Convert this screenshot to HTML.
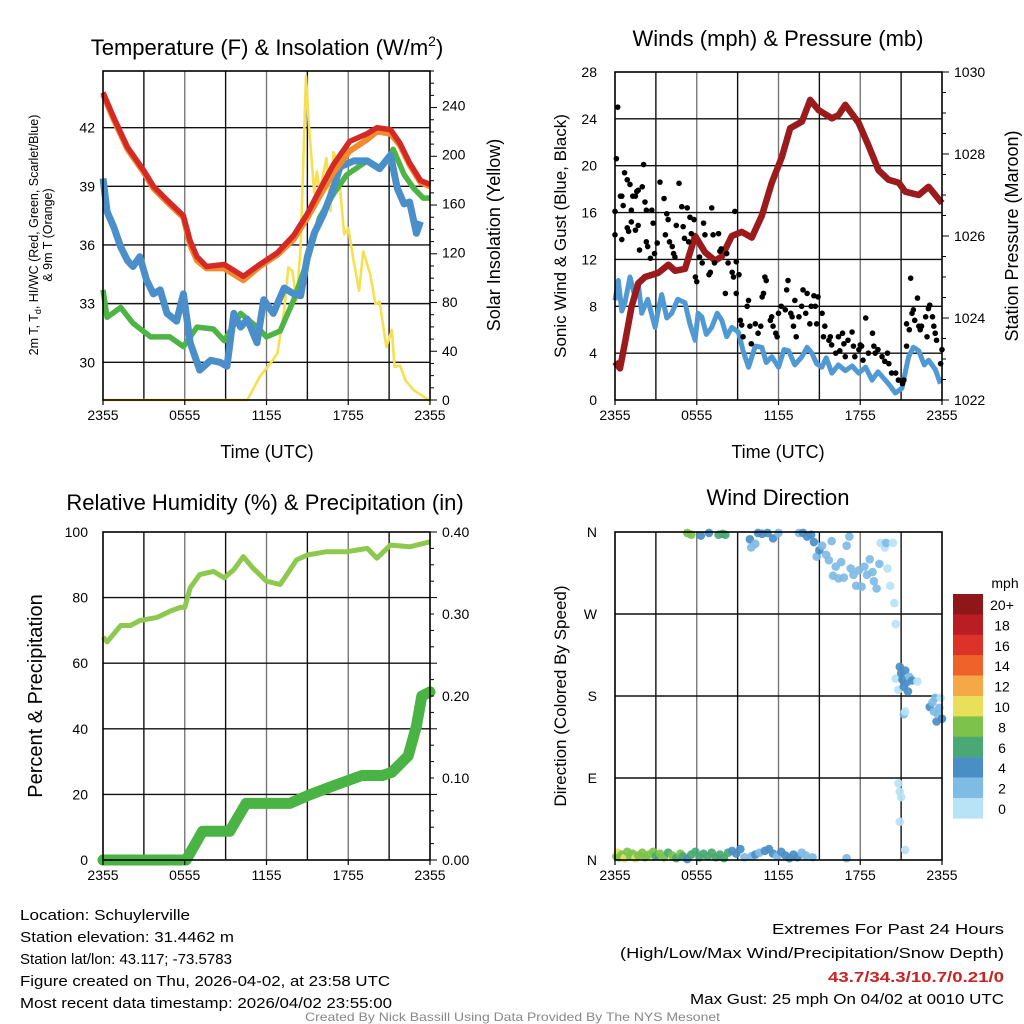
<!DOCTYPE html>
<html><head><meta charset="utf-8"><style>
html,body{margin:0;padding:0;background:#fff;}
svg{display:block;font-family:"Liberation Sans",sans-serif;}
</style></head><body>
<svg id="chart" width="1024" height="1024" viewBox="0 0 1024 1024" xmlns="http://www.w3.org/2000/svg">
<rect width="1024" height="1024" fill="#fff"/>
</svg>
<script>
// ---------- DATA ----------
const xTickLabels = ["2355","0555","1155","1755","2355"];
// Panel 1: temperature
const redHours = [0,0.8,1.8,3.0,3.7,4.7,5.9,6.4,6.9,7.6,8.9,10.3,11.5,12.8,14.0,15.0,15.9,16.9,18.1,19.4,20.1,21.1,21.8,22.5,23.3,24];
const redTemp  = [43.8,42.5,41.0,39.8,39.0,38.3,37.5,36.2,35.4,34.9,35.0,34.4,35.0,35.6,36.5,37.6,38.8,40.1,41.3,41.7,42.0,41.9,41.2,40.2,39.3,39.1];
const orangeTemp=[43.7,42.4,40.9,39.7,38.9,38.2,37.4,36.0,35.2,34.8,34.8,34.2,34.9,35.5,36.3,37.4,38.5,39.7,40.8,41.4,41.8,41.7,41.1,40.1,39.2,39.0];
const greenHours = [0,0.3,1.3,2.2,3.5,4.9,5.9,6.9,8.1,8.9,10.1,11.3,12.0,13.0,14.0,15.0,15.9,16.9,17.9,19.4,20.3,21.1,21.3,22.1,22.8,23.5,24];
const greenTemp  = [33.7,32.3,32.8,32.0,31.3,31.3,30.8,31.8,31.7,31.1,32.5,31.8,31.3,31.6,33.2,35.2,37.4,38.6,39.6,40.3,39.9,40.6,40.9,39.6,38.9,38.4,38.4];
const dewHours = [0,0.3,0.8,1.3,1.8,2.2,2.7,3.2,3.7,4.2,4.7,5.4,5.9,6.4,7.1,7.9,8.6,9.1,9.6,10.1,10.6,11.3,11.8,12.5,13.3,14.0,14.5,15.0,15.5,16.2,16.9,17.4,18.4,19.4,20.3,21.1,21.6,22.1,22.5,23.0,23.3];
const dewTemp  = [39.4,37.7,36.9,35.9,35.2,34.9,35.4,34.2,33.5,33.7,32.5,32.1,33.5,31.0,29.6,30.1,30.0,29.8,32.5,31.8,32.2,31.0,33.2,32.5,33.8,33.5,33.4,35.4,36.6,37.6,38.9,40.0,40.3,40.3,39.9,40.6,38.9,38.1,38.2,36.6,37.2];
const solarHours = [0,10.6,11.5,12.3,12.8,13.3,13.6,13.9,14.2,14.5,14.7,14.9,15.1,15.5,15.7,15.9,16.4,16.7,16.9,17.2,17.4,17.7,18.0,18.4,18.8,19.1,19.6,20.0,20.3,20.8,21.2,21.4,21.8,22.2,22.8,23.5,23.9,24];
const solarVal   = [0,0,19,30,38,73,108,105,81,124,194,264,226,169,186,170,197,154,202,194,172,135,140,113,89,121,103,78,80,43,57,27,28,16,8,3,0,0];
// Panel 2: winds & pressure
const presHours = [0,0.37,0.73,1.22,1.71,2.2,3.18,3.92,4.41,5.14,5.88,6.61,7.35,7.84,8.57,9.31,10.04,10.78,11.51,12.25,12.86,13.72,14.33,14.94,15.92,16.41,16.9,17.88,18.61,19.35,20.08,20.82,21.31,22.29,23.02,24];
const presVal   = [1022.93,1022.77,1023.39,1024.28,1024.85,1025.0,1025.1,1025.3,1025.15,1025.2,1026.0,1025.6,1025.4,1025.5,1026.0,1026.1,1025.96,1026.5,1027.3,1027.93,1028.63,1028.79,1029.32,1029.07,1028.87,1028.95,1029.2,1028.76,1028.2,1027.6,1027.37,1027.3,1027.08,1027.0,1027.2,1026.8];
const windHours = [0,0.24,0.5,0.73,1.1,1.47,1.7,1.96,2.4,2.94,3.2,3.43,3.8,4.16,4.6,5.14,5.5,5.88,6.1,6.37,6.7,7.1,7.5,7.84,8.2,8.57,9.06,9.4,9.8,10.3,10.78,11.1,11.51,12.0,12.4,12.74,13.2,13.72,14.1,14.45,14.8,15.18,15.5,15.92,16.4,16.9,17.4,17.88,18.4,18.86,19.3,19.84,20.2,20.57,21.06,21.55,21.9,22.29,22.7,23.02,23.51,23.88];
const windVal   = [8.5,10.2,7.6,8.3,10.5,8.8,10.0,7.4,8.6,6.2,7.8,9.0,7.0,7.4,8.6,8.3,6.5,5.1,7.4,7.1,5.6,6.2,7.4,6.8,5.4,6.2,5.8,4.2,2.8,4.6,4.5,3.2,3.7,2.8,4.3,4.2,3.0,3.7,4.5,4.0,3.1,2.8,3.6,2.3,3.0,2.5,2.9,2.3,2.8,1.7,2.4,1.7,1.2,0.6,1.0,3.7,4.5,4.2,3.0,3.4,2.6,1.4];
const gustHours = [0.2,0.1,0.0,0.0,0.4,0.5,0.6,0.5,0.7,0.9,1.1,1.2,1.3,1.5,1.6,1.7,2.0,2.1,2.2,2.3,0.9,1.0,1.2,1.5,1.7,1.8,2.3,2.4,2.6,2.7,2.8,2.9,3.1,3.3,3.6,3.7,3.8,3.9,4.0,4.2,4.3,4.4,4.7,4.5,4.9,5.0,5.1,5.3,5.4,5.5,5.6,5.8,5.9,6.0,6.2,6.4,6.5,6.6,6.9,7.0,7.1,7.2,7.3,7.6,7.7,7.8,8.1,8.2,8.3,8.6,8.7,8.8,8.9,8.9,9.1,9.2,9.3,9.4,9.7,9.8,9.9,10.0,10.3,10.5,10.7,10.8,10.9,11.0,11.1,11.4,11.5,11.6,11.8,11.9,12.0,12.2,12.5,12.6,12.7,12.9,13.0,13.1,13.2,13.3,13.5,13.7,13.8,14.0,14.1,14.3,14.4,14.6,14.7,14.8,14.9,15.2,15.3,15.4,15.7,15.8,15.9,16.2,16.4,16.5,16.7,16.8,16.9,17.1,17.4,17.5,17.6,17.9,18.0,18.1,18.2,18.4,18.6,18.9,19.0,19.1,19.3,19.6,19.8,20.0,20.1,20.3,20.6,20.8,21.1,21.2,21.4,21.4,21.6,21.7,21.8,21.9,22.0,22.2,22.3,22.4,22.5,22.8,22.9,23.0,23.1,23.3,23.4,23.5,23.6,23.9,24.0];
const gustVal   = [25.0,20.6,16.1,14.1,17.4,17.4,16.6,13.7,19.4,18.8,18.4,16.2,17.4,17.4,17.8,17.9,18.2,20.1,16.9,16.2,14.7,14.4,15.2,14.5,14.9,12.8,13.5,13.1,12.1,16.2,15.1,12.5,13.4,18.6,17.2,14.1,15.9,15.4,13.5,13.1,12.5,12.2,18.5,14.9,16.5,14.8,13.8,16.4,13.5,15.6,14.2,15.4,10.5,10.1,12.2,11.7,15.1,14.1,10.7,10.9,16.4,14.1,11.7,14.2,12.7,12.9,9.1,12.5,11.7,10.9,10.5,16.1,11.8,9.1,10.7,6.8,6.4,5.4,8.0,8.5,6.3,4.8,6.5,5.7,6.3,8.8,9.1,10.5,10.2,6.8,7.1,6.3,5.7,5.4,7.4,8.0,7.7,9.4,10.2,7.4,7.1,6.3,8.5,5.4,7.1,8.0,9.4,7.4,9.1,6.5,8.0,8.9,8.0,6.5,8.8,7.4,5.4,6.3,5.1,5.4,4.7,4.0,5.4,4.2,5.7,4.8,3.7,5.1,5.8,4.6,3.7,4.3,4.7,4.6,3.4,7.0,4.0,5.7,4.6,4.0,4.3,3.7,3.3,4.0,3.1,2.3,2.3,1.7,1.4,1.7,4.6,6.5,6.0,10.4,7.4,7.7,6.8,8.7,6.3,6.0,6.3,7.1,5.4,7.8,8.1,7.1,6.3,5.7,5.1,3.1,4.3];
// Panel 3: RH & precip
const rhHours = [0,0.3,1.3,2.0,2.7,4.0,5.0,5.7,6.0,6.4,7.1,8.1,8.9,9.6,10.3,11.0,12.0,13.0,13.5,14.2,15.0,16.4,17.9,19.4,20.1,21.1,22.5,24];
const rhVal   = [68,66.5,71.5,71.5,73,74,76,77,77,83,87,88,86,88.5,92.5,89,85,84,87,91.5,93,94,94,95,92,96,95.5,97];
const prHours = [0,6.1,7.3,9.3,10.5,13.7,15.1,17.0,19.0,20.5,21.2,22.4,23.0,23.4,24];
const prVal   = [0,0,0.035,0.035,0.069,0.069,0.079,0.091,0.103,0.103,0.107,0.127,0.163,0.200,0.205];
// Panel 4: wind direction
const dirHours = [0.1,0.2,0.3,0.5,0.7,0.9,1.1,1.3,1.5,1.7,2.0,2.2,2.5,2.8,3.0,3.3,3.6,3.9,4.2,4.5,4.8,5.0,5.3,5.6,5.9,6.2,6.5,6.8,7.1,7.4,7.7,8.0,8.3,8.6,8.9,9.2,9.5,10.0,10.3,10.6,11.0,11.3,11.6,11.9,12.2,12.5,12.8,13.1,13.4,13.7,14.0,14.5,17.0,21.3,
 5.3,5.6,6.3,6.9,7.6,7.9,8.1,9.9,10.0,10.3,10.5,10.8,11.2,11.6,12.0,13.5,13.8,14.1,14.4,14.6,14.8,15.0,15.2,15.5,15.7,15.9,16.0,16.2,16.4,16.6,16.8,17.0,17.2,17.3,17.5,17.7,17.9,18.1,18.3,18.5,18.7,18.9,19.0,19.2,19.4,19.5,19.8,19.9,20.0,20.2,20.4,20.5,20.6,
 20.6,20.8,20.9,21.0,21.1,21.2,21.3,21.4,21.5,21.6,21.8,21.2,21.3,22.2,23.1,23.3,23.4,23.5,23.6,23.7,23.8,23.9,24.0,20.8,20.9,21.0,20.9];
const dirDeg = [4,8,3,6,2,9,4,7,2,5,8,3,6,9,4,7,3,8,5,2,7,4,1,6,9,3,7,4,8,3,6,2,8,10,7,12,3,4,6,8,10,12,7,4,9,5,2,6,3,8,5,3,2,11,
 359,357,356,359,357,358,357,352,343,347,359,358,359,353,359,359,359,355,357,349,333,340,345,335,329,350,312,322,309,327,310,345,355,320,313,301,318,300,322,313,330,316,306,298,325,348,343,348,320,301,348,282,259,
 199,187,212,205,198,190,208,195,185,201,197,160,163,196,168,173,163,178,152,160,167,178,155,84,75,69,42];
const dirSpeed = [9,10,9,8,10,8,9,8,10,8,8,9,8,8,7,8,8,7,8,7,8,6,5,7,6,6,6,6,6,6,6,7,6,4,4,4,3,3,4,3,4,4,4,3,4,4,4,4,4,3,3,3,3,1,
 8,8,4,4,6,6,6,4,3,3,4,4,4,4,3,3,4,4,4,4,3,4,3,3,3,3,3,3,3,3,3,3,3,3,3,3,3,3,3,3,3,3,3,3,3,1,1,3,1,1,1,1,1,
 1,1,4,4,4,4,4,4,4,3,4,3,1,1,4,3,3,3,4,3,3,1,4,1,1,1,1];
const cbLabels = ["20+","18","16","14","12","10","8","6","4","2","0"];
const cbColors = ["#8f1619","#bb1d25","#db3328","#ef6229","#f5a845","#e8e05b","#7dc24b","#49a873","#4a8ec6","#7ebbe5","#b8e3f6"];

// ---------- HELPERS ----------
const NS="http://www.w3.org/2000/svg";
const svg=document.getElementById('chart');
function el(tag,attrs,parent){const e=document.createElementNS(NS,tag);for(const k in attrs)e.setAttribute(k,attrs[k]);(parent||svg).appendChild(e);return e;}
function txt(s,x,y,size,attrs,parent){const t=el('text',Object.assign({x:x,y:y,'font-size':size,fill:'#000'},attrs||{}),parent);t.textContent=s;return t;}
function makePanel(x0,x1,y0,y1,lmin,lmax,rmin,rmax){
 return {x0,x1,y0,y1,sx:h=>x0+h/24*(x1-x0),ly:v=>y1-(v-lmin)/(lmax-lmin)*(y1-y0),ry:v=>y1-(v-rmin)/(rmax-rmin)*(y1-y0)};
}
function pathD(xs,ys,fx,fy){return xs.map((h,i)=>(i?'L':'M')+fx(h).toFixed(1)+','+fy(ys[i]).toFixed(1)).join('');}
function grid(p,g,hLines){
 for(let k=1;k<8;k++){const x=p.x0+k*(p.x1-p.x0)/8;const l=el('line',{x1:x,x2:x,y1:p.y0,y2:p.y1,stroke:k%2?'#111':'#777','stroke-width':1.4},g);
 
 }
 hLines.forEach(y=>{const l=el('line',{x1:p.x0,x2:p.x1,y1:y,y2:y,stroke:'#111','stroke-width':1.4},g);
 
 });
}
function frame(p,g){const r=el('rect',{x:p.x0,y:p.y0,width:p.x1-p.x0,height:p.y1-p.y0,fill:'none',stroke:'#000','stroke-width':1.6},g);
 
 }
function xTicks(p,g,ty){xTickLabels.forEach((s,i)=>{const x=p.sx(i*6);const t=txt(s,x,ty,14,{'text-anchor':'middle'},g);
 
 
 el('line',{x1:x,x2:x,y1:p.y1,y2:p.y1+5,stroke:'#000','stroke-width':1.2},g);});}
function rightMinor(p,g,n){for(let i=0;i<=n;i++){const y=p.y1-i*(p.y1-p.y0)/n;el('line',{x1:p.x1,x2:p.x1+(i%4==0?7:4),y1:y,y2:y,stroke:'#000','stroke-width':1},g);}}
function label(s,x,y,size,rot,g,name,extra){const t=txt(s,x,y,size,Object.assign({'text-anchor':'middle',transform:rot?`rotate(-90 ${x} ${y})`:''},extra||{}),g);
 
 return t;}

// ---------- PANEL 1 ----------
const g1=el('g',{});
const p1=makePanel(103,430,71,400,28.07,44.9,0,268);
grid(p1,g1,[30,33,36,39,42].map(p1.ly));
const sol=el('path',{d:pathD(solarHours,solarVal,p1.sx,p1.ry),fill:'none',stroke:'#f7e04f','stroke-width':2.6,'stroke-linejoin':'round'},g1);

const gl=el('path',{d:pathD(greenHours,greenTemp,p1.sx,p1.ly),fill:'none',stroke:'#4db445','stroke-width':5.5,'stroke-linejoin':'round'},g1);

const dl=el('path',{d:pathD(dewHours,dewTemp,p1.sx,p1.ly),fill:'none',stroke:'#4a8fc9','stroke-width':7,'stroke-linejoin':'round'},g1);

const ol=el('path',{d:pathD(redHours,orangeTemp,p1.sx,p1.ly),fill:'none',stroke:'#f28a2e','stroke-width':6,'stroke-linejoin':'round'},g1);

const rl=el('path',{d:pathD(redHours,redTemp,p1.sx,p1.ly),fill:'none',stroke:'#d42a25','stroke-width':5.5,'stroke-linejoin':'round'},g1);

frame(p1,g1);xTicks(p1,g1,420);rightMinor(p1,g1,Math.round(268/10));
[30,33,36,39,42].forEach(v=>{const t=txt(String(v),95,p1.ly(v)+5,14,{'text-anchor':'end'},g1);});
[0,40,80,120,160,200,240].forEach(v=>{const t=txt(String(v),442,p1.ry(v)+5,14,{},g1);});
const t1=label('',267,55,22,false,g1,'temperature-title');t1.innerHTML='Temperature (F) &amp; Insolation (W/m<tspan font-size="14" dy="-9">2</tspan><tspan dy="9">)</tspan>';
label('Time (UTC)',267,458,18,false,g1,'x-axis-title');
const yl1=label('',38,235,12.5,true,g1,'left-y-axis-title');yl1.innerHTML='2m T, T<tspan font-size="9" dy="3">d</tspan><tspan dy="-3">, HI/WC (Red, Green, Scarlet/Blue)</tspan>';
label('& 9m T (Orange)',52,235,12.5,true,g1,'left-y-axis-title-line2');
label('Solar Insolation (Yellow)',500,235,18,true,g1,'right-y-axis-title');

// ---------- PANEL 2 ----------
const g2=el('g',{});
const p2=makePanel(615,942,72,400,0,28,1022,1030);
grid(p2,g2,[4,8,12,16,20,24].map(p2.ly));
const wl=el('path',{d:pathD(windHours,windVal,p2.sx,p2.ly),fill:'none',stroke:'#5199d3','stroke-width':5,'stroke-linejoin':'round'},g2);

const pl=el('path',{d:pathD(presHours,presVal,p2.sx,p2.ry),fill:'none',stroke:'#9b1a1c','stroke-width':6.5,'stroke-linejoin':'round'},g2);

gustHours.forEach((h,i)=>{const c=el('circle',{cx:p2.sx(h),cy:p2.ly(gustVal[i]),r:2.8,fill:'#000'},g2);
 
 });
frame(p2,g2);xTicks(p2,g2,420);rightMinor(p2,g2,16);
[0,4,8,12,16,20,24,28].forEach(v=>{const t=txt(String(v),597,p2.ly(v)+5,14,{'text-anchor':'end'},g2);});
[1022,1024,1026,1028,1030].forEach(v=>{const t=txt(String(v),954,p2.ry(v)+5,14,{},g2);});
label('Winds (mph) & Pressure (mb)',778,46,22,false,g2,'winds-title');
label('Time (UTC)',778,458,18,false,g2,'x-axis-title');
label('Sonic Wind & Gust (Blue, Black)',566,236,17,true,g2,'left-y-axis-title');
label('Station Pressure (Maroon)',1018,236,18,true,g2,'right-y-axis-title');

// ---------- PANEL 3 ----------
const g3=el('g',{});
const p3=makePanel(103,430,532,860,0,100,0,0.4);
grid(p3,g3,[20,40,60,80].map(p3.ly));
const prl=el('path',{d:pathD(prHours,prVal,p3.sx,p3.ry),fill:'none',stroke:'#49b343','stroke-width':11,'stroke-linejoin':'round','stroke-linecap':'round'},g3);

const rhl=el('path',{d:pathD(rhHours,rhVal,p3.sx,p3.ly),fill:'none',stroke:'#8dc94e','stroke-width':5,'stroke-linejoin':'round'},g3);

frame(p3,g3);xTicks(p3,g3,880);rightMinor(p3,g3,20);
[0,20,40,60,80,100].forEach(v=>{const t=txt(String(v),88,p3.ly(v)+5,14,{'text-anchor':'end'},g3);});
[0,0.1,0.2,0.3,0.4].forEach(v=>{const t=txt(v.toFixed(2),442,p3.ry(v)+5,14,{},g3);});
label('Relative Humidity (%) & Precipitation (in)',265,510,22,false,g3,'humidity-title');
label('Percent & Precipitation',42,696,20,true,g3,'left-y-axis-title');

// ---------- PANEL 4 ----------
const g4=el('g',{});
const p4=makePanel(615,942,532,860,0,360,0,360);
grid(p4,g4,[90,180,270].map(p4.ly));
function speedColor(s){const idx=Math.min(10,Math.floor(s/2));return cbColors[10-idx];}
dirHours.forEach((h,i)=>{const c=el('circle',{cx:p4.sx(h),cy:p4.ly(dirDeg[i]),r:4.3,fill:speedColor(dirSpeed[i]),'fill-opacity':0.92},g4);
 
 });
frame(p4,g4);xTicks(p4,g4,880);
["N","E","S","W","N"].forEach((s,i)=>{const t=txt(s,597,p4.ly(i*90)+5,14,{'text-anchor':'end'},g4);});
label('Wind Direction',778,505,22,false,g4,'direction-title');
label('Direction (Colored By Speed)',566,696,17,true,g4,'left-y-axis-title');
const cb=el('g',{},g4);
cbColors.forEach((c,i)=>{const r=el('rect',{x:953,y:594+i*20.4,width:30,height:20.6,fill:c},cb);
 
 
 const t=txt(cbLabels[i],1002,594+i*20.4+16,14,{'text-anchor':'middle'},cb);
 
 });
label('mph',1005,588,14,false,cb,'colorbar-title');

// ---------- FOOTER ----------
const gf=el('g',{});
const leftLines=[["Location: Schuylerville",170,920],["Station elevation: 31.4462 m",214,942],["Station lat/lon: 43.117; -73.5783",212,964],["Figure created on Thu, 2026-04-02, at 23:58 UTC",370,986],["Most recent data timestamp: 2026/04/02 23:55:00",372,1008]];
leftLines.forEach(l=>{const t=txt(l[0],20,l[2],15,{textLength:l[1],lengthAdjust:'spacingAndGlyphs'},gf);});
const rightLines=[["Extremes For Past 24 Hours",232,934,'#000','normal'],["(High/Low/Max Wind/Precipitation/Snow Depth)",384,958,'#000','normal'],["43.7/34.3/10.7/0.21/0",176,982,'#cc2222','bold'],["Max Gust: 25 mph On 04/02 at 0010 UTC",314,1004,'#000','normal']];
rightLines.forEach(l=>{const t=txt(l[0],1004-l[1],l[2],15,{textLength:l[1],lengthAdjust:'spacingAndGlyphs',fill:l[3],'font-weight':l[4]},gf);});
const cr=txt('Created By Nick Bassill Using Data Provided By The NYS Mesonet',305,1021,12,{textLength:415,lengthAdjust:'spacingAndGlyphs',fill:'#888'},gf);

</script>
</body></html>
